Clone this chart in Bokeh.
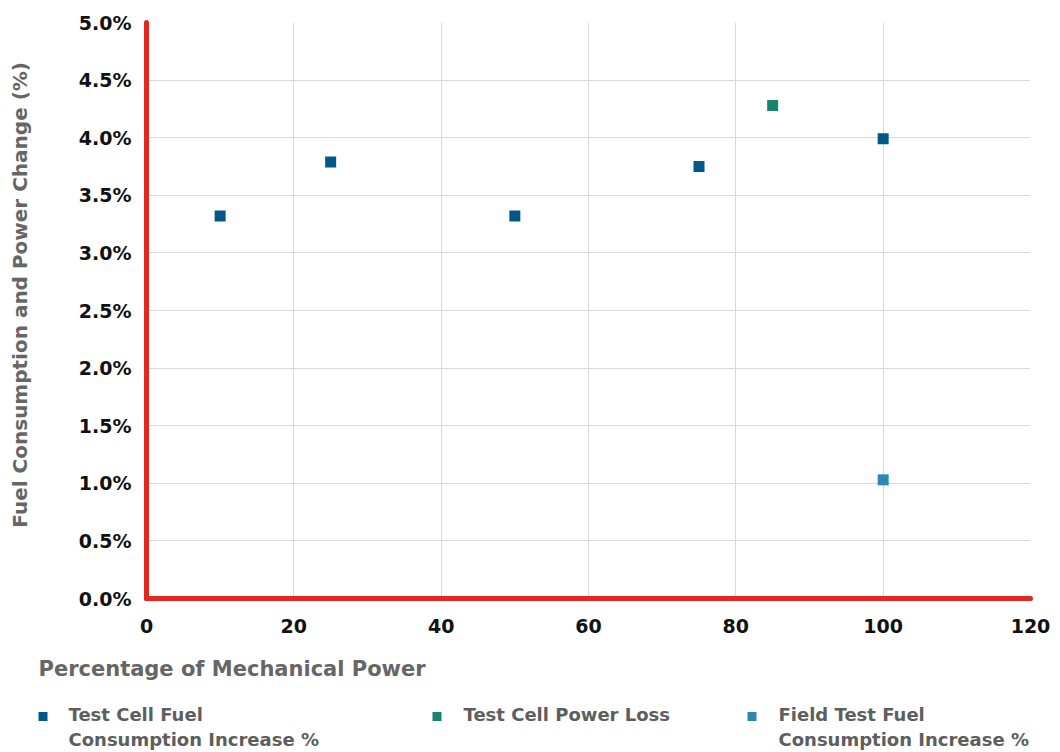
import numpy as np
from bokeh.plotting import figure
from bokeh.layouts import column, row
from bokeh.models import Range1d, FixedTicker, PrintfTickFormatter
from bokeh.core.properties import value
from bokeh.embed import file_html
from bokeh.resources import INLINE

# ---- data -------------------------------------------------------------
power_pct = [10, 25, 50, 75, 100]
test_cell_fuel = [3.32, 3.79, 3.32, 3.75, 3.99]

power_loss_pct = [85]
test_cell_power_loss = [4.28]

field_pct = [100]
field_test_fuel = [1.03]

x_ticks = [0, 20, 40, 60, 80, 100, 120]
y_ticks = [0.0, 0.5, 1.0, 1.5, 2.0, 2.5, 3.0, 3.5, 4.0, 4.5, 5.0]

x_title = "Percentage of Mechanical Power"
y_title = "Fuel Consumption and Power Change (%)"
series_line1 = ["Test Cell Fuel", "Test Cell Power Loss", "Field Test Fuel"]
series_line2 = ["Consumption Increase %", "", "Consumption Increase %"]

# ---- layout / style ---------------------------------------------------
W, H = 1060, 752
TITLE_W = 40                 # strip holding the rotated y title
MAIN_H = 645                 # chart area height
LEG_H = H - MAIN_H           # x title + legend strip
FRAME_L, FRAME_R, FRAME_T, FRAME_B = 146, 1030, 22, 598
X_MAX, Y_MAX = 120, 5.0

FONT = "DejaVu Sans"
RED = "#e2291f"
COLORS = ["#00588a", "#178471", "#2a88b2"]
GREY_TITLE = "#666666"
GREY_LEGEND = "#5e5e5e"


def blank(width, height):
    f = figure(width=width, height=height, output_backend="svg", toolbar_location=None,
               x_axis_type=None, y_axis_type=None,
               x_range=Range1d(0, width), y_range=Range1d(0, height),
               min_border=0, min_border_left=0, min_border_right=0,
               min_border_top=0, min_border_bottom=0)
    f.outline_line_color = None
    f.grid.visible = False
    f.background_fill_color = "white"
    f.border_fill_color = "white"
    return f


# ---- main chart -------------------------------------------------------
p = figure(width=W - TITLE_W, height=MAIN_H, output_backend="svg", toolbar_location=None,
           x_range=Range1d(0, X_MAX), y_range=Range1d(0, Y_MAX),
           min_border_left=FRAME_L - TITLE_W, min_border_right=W - FRAME_R,
           min_border_top=FRAME_T, min_border_bottom=MAIN_H - FRAME_B)
p.outline_line_color = None
p.background_fill_color = "white"
p.border_fill_color = "white"

for ax in (p.xaxis[0], p.yaxis[0]):
    ax.axis_line_color = RED
    ax.axis_line_width = 5
    ax.axis_line_cap = "round"
    ax.major_tick_line_color = None
    ax.minor_tick_line_color = None
    ax.major_label_text_font = FONT
    ax.major_label_text_font_style = "bold"
    ax.major_label_text_font_size = "19px"
    ax.major_label_text_color = "#111111"

p.xaxis.ticker = FixedTicker(ticks=x_ticks)
p.xaxis.major_label_standoff = 14
p.yaxis.ticker = FixedTicker(ticks=y_ticks)
p.yaxis.formatter = PrintfTickFormatter(format="%.1f%%")
p.yaxis.major_label_standoff = 9

p.xgrid.ticker = FixedTicker(ticks=x_ticks[1:-1])
p.ygrid.ticker = FixedTicker(ticks=y_ticks[1:-1])
p.grid.grid_line_color = "#d9d9d9"
p.grid.grid_line_width = 1

p.scatter(power_pct, test_cell_fuel, marker="square", size=11,
          fill_color=COLORS[0], line_color=None)
p.scatter(power_loss_pct, test_cell_power_loss, marker="square", size=11,
          fill_color=COLORS[1], line_color=None)
p.scatter(field_pct, field_test_fuel, marker="square", size=11,
          fill_color=COLORS[2], line_color=None)

# ---- rotated y title --------------------------------------------------
yt = blank(TITLE_W, MAIN_H)
yt.text(x=[19], y=[MAIN_H - 305], text=[y_title], angle=np.pi / 2,
        text_font=value(FONT), text_font_style="bold", text_font_size="20px",
        text_color=GREY_TITLE, text_align="center", text_baseline="middle")

# ---- x title and legend -----------------------------------------------
lg = blank(W, LEG_H)
lg.text(x=[38], y=[H - 668], text=[x_title],
        text_font=value(FONT), text_font_style="bold", text_font_size="21px",
        text_color=GREY_TITLE, text_align="left", text_baseline="middle")

swatch_x = [42.5, 436.5, 751.5]
label_x = [68, 463, 778]
lg.scatter(swatch_x, [H - 716] * 3, marker="square", size=9,
           fill_color=COLORS, line_color=None)
lg.text(x=label_x, y=[H - 714] * 3, text=series_line1,
        text_font=value(FONT), text_font_style="bold", text_font_size="18px",
        text_color=GREY_LEGEND, text_align="left", text_baseline="middle")
lg.text(x=label_x, y=[H - 739] * 3, text=series_line2,
        text_font=value(FONT), text_font_style="bold", text_font_size="18px",
        text_color=GREY_LEGEND, text_align="left", text_baseline="middle")

layout = column(row(yt, p, spacing=0), lg, spacing=0)
open("out.html", "w").write(file_html(layout, INLINE))
